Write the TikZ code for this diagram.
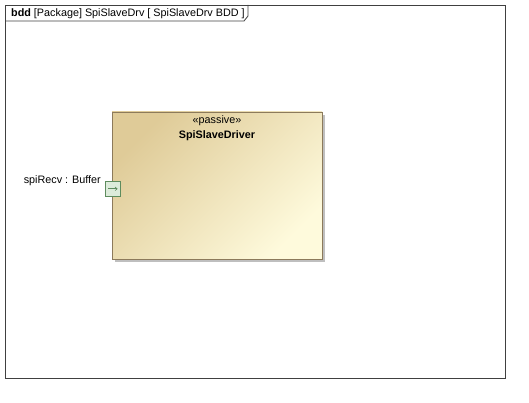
\documentclass[tikz,border=0pt]{standalone}
\usepackage{fontspec}
\setmainfont{Liberation Sans}
\usetikzlibrary{arrows.meta}
\definecolor{frameline}{HTML}{404040}
\definecolor{blockline}{HTML}{8C7A5B}
\definecolor{blockdark}{HTML}{DFCB98}
\definecolor{blocklight}{HTML}{FEFADC}
\definecolor{portfill}{HTML}{DCEBDA}
\definecolor{portline}{HTML}{5E8C5E}
\tikzset{
  frame/.style={draw=frameline, line width=0.8pt},
  blockbox/.style={left color=blockdark, right color=blocklight, shading angle=45},
  portbox/.style={draw=portline, fill=portfill, line width=0.6pt},
  lbl/.style={font=\fontsize{10.8pt}{12pt}\selectfont, inner sep=0pt},
}
\begin{document}
\begin{tikzpicture}[x=1pt,y=-1pt]
\useasboundingbox (0,0) rectangle (529,403);
% frame
\draw[frame] (5,5) rectangle (505,378);
\draw[frame] (5,21) -- (244,21) -- (248,16) -- (248,5);
\node[lbl, anchor=west] (title) at (11,13.5) {\textbf{bdd} [Package] SpiSlaveDrv [ SpiSlaveDrv BDD ]};
% shadow
\fill[black!25] (115,115) rectangle (325,262);
\path[blockbox] (112,112) rectangle (322,259);
\draw[blockline, line width=0.8pt] (112,112) rectangle (322,259);
\node[lbl, anchor=north] (stereo) at (217,115) {«passive»};
\node[lbl, anchor=north] (name) at (217,130) {\textbf{SpiSlaveDriver}};
% port
\node[portbox, minimum width=15pt, minimum height=15pt, inner sep=0pt, anchor=north west] (port) at (105,181) {};
\draw[portline, -{Straight Barb[length=2pt,width=3.5pt]}, line width=0.6pt] ([xshift=3pt]port.center-|port.west) -- ([xshift=-3pt]port.center-|port.east);
\node[lbl, anchor=east] (plabel) at (101,181) {spiRecv : Buffer};
\end{tikzpicture}
\end{document}
